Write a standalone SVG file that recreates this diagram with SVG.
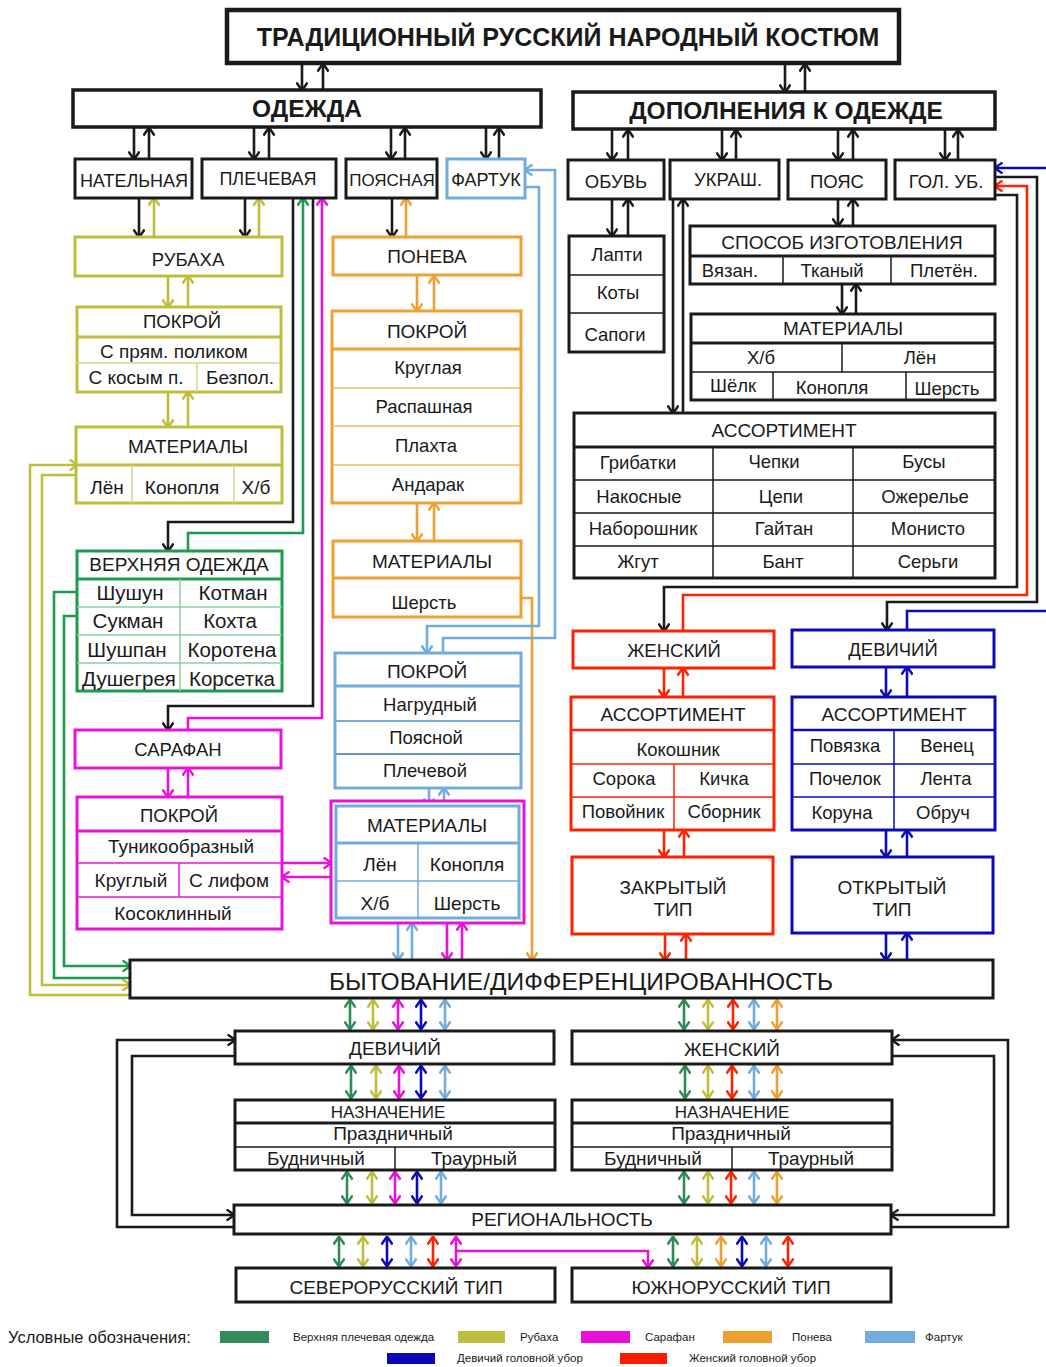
<svg xmlns="http://www.w3.org/2000/svg" width="1046" height="1367" viewBox="0 0 1046 1367">
<defs>
<style>
text{font-family:"Liberation Sans",Arial,sans-serif;fill:#1a1a1a;text-anchor:middle;font-size:18.5px}
.bold{font-weight:bold}
.s17{font-size:17px}.s18{font-size:18px}.s19{font-size:19px}.s20{font-size:20.5px}.s24{font-size:24.5px}
.lg{font-size:11.5px;text-anchor:start}
rect{fill:#fff;stroke-width:3}
.k{stroke:#1a1a1a}.o{stroke:#bebe3c}.g{stroke:#1c9c4c}.m{stroke:#e812d8}.n{stroke:#eda132}.l{stroke:#72acdc}.r{stroke:#ff2200}.b{stroke:#0a0ab8}
line.h{stroke-width:3}line.t{stroke-width:1.5}
.c path,.c line{fill:none;stroke-width:2.6}
.ak{marker-end:url(#mK)}
</style>
<marker id="mK" viewBox="0 0 10 12" refX="8.5" refY="6" markerWidth="10" markerHeight="12" markerUnits="userSpaceOnUse" orient="auto-start-reverse"><path d="M1,0.5 L9,6 L1,11.5" fill="none" stroke="#1a1a1a" stroke-width="2.4"/></marker>
<marker id="mO" viewBox="0 0 10 12" refX="8.5" refY="6" markerWidth="10" markerHeight="12" markerUnits="userSpaceOnUse" orient="auto-start-reverse"><path d="M1,0.5 L9,6 L1,11.5" fill="none" stroke="#bebe3c" stroke-width="2.4"/></marker>
<marker id="mG" viewBox="0 0 10 12" refX="8.5" refY="6" markerWidth="10" markerHeight="12" markerUnits="userSpaceOnUse" orient="auto-start-reverse"><path d="M1,0.5 L9,6 L1,11.5" fill="none" stroke="#1c9c4c" stroke-width="2.4"/></marker>
<marker id="mD" viewBox="0 0 10 12" refX="8.5" refY="6" markerWidth="10" markerHeight="12" markerUnits="userSpaceOnUse" orient="auto-start-reverse"><path d="M1,0.5 L9,6 L1,11.5" fill="none" stroke="#2e8a58" stroke-width="2.4"/></marker>
<marker id="mM" viewBox="0 0 10 12" refX="8.5" refY="6" markerWidth="10" markerHeight="12" markerUnits="userSpaceOnUse" orient="auto-start-reverse"><path d="M1,0.5 L9,6 L1,11.5" fill="none" stroke="#e812d8" stroke-width="2.4"/></marker>
<marker id="mN" viewBox="0 0 10 12" refX="8.5" refY="6" markerWidth="10" markerHeight="12" markerUnits="userSpaceOnUse" orient="auto-start-reverse"><path d="M1,0.5 L9,6 L1,11.5" fill="none" stroke="#eda132" stroke-width="2.4"/></marker>
<marker id="mL" viewBox="0 0 10 12" refX="8.5" refY="6" markerWidth="10" markerHeight="12" markerUnits="userSpaceOnUse" orient="auto-start-reverse"><path d="M1,0.5 L9,6 L1,11.5" fill="none" stroke="#72acdc" stroke-width="2.4"/></marker>
<marker id="mR" viewBox="0 0 10 12" refX="8.5" refY="6" markerWidth="10" markerHeight="12" markerUnits="userSpaceOnUse" orient="auto-start-reverse"><path d="M1,0.5 L9,6 L1,11.5" fill="none" stroke="#ff2200" stroke-width="2.4"/></marker>
<marker id="mB" viewBox="0 0 10 12" refX="8.5" refY="6" markerWidth="10" markerHeight="12" markerUnits="userSpaceOnUse" orient="auto-start-reverse"><path d="M1,0.5 L9,6 L1,11.5" fill="none" stroke="#0a0ab8" stroke-width="2.4"/></marker>
</defs>
<rect x="0" y="0" width="1046" height="1367" style="fill:#fff;stroke:none"/>

<!-- connectors -->
<g id="connectors" class="c">
<g class="k" marker-end="url(#mK)">
<path d="M302,64V90"/><path d="M323,90V64"/>
<path d="M785,64V92"/><path d="M805,92V64"/>
<path d="M134,128V159"/><path d="M149,159V128"/>
<path d="M254,128V159"/><path d="M269,159V128"/>
<path d="M391,128V159"/><path d="M405,159V128"/>
<path d="M486,128V159"/><path d="M499,159V128"/>
<path d="M612,130V160"/><path d="M628,160V130"/>
<path d="M722,130V160"/><path d="M736,160V130"/>
<path d="M838,130V160"/><path d="M853,160V130"/>
<path d="M945,130V160"/><path d="M958,160V130"/>
<path d="M139,198V237"/><path d="M245,198V237"/>
<path d="M293,198V522H168V551"/>
<path d="M313,198V706H168V730"/>
<path d="M392,198V237"/>
<path d="M612,199V236"/><path d="M628,236V199"/>
<path d="M673,199V413"/><path d="M683,413V199"/>
<path d="M838,199V226"/><path d="M853,226V199"/>
<path d="M842,284V314"/><path d="M856,314V284"/>
<path d="M995,195H1017V587H664V631"/>
<path d="M995,177H1037V602H887V630"/>
<path d="M234,1227H117V1040H235"/>
<path d="M235,1056H132V1215H234"/>
<path d="M891,1227H1008V1040H892"/>
<path d="M892,1056H994V1215H891"/>
</g>
<g class="o" marker-end="url(#mO)">
<path d="M154,237V198"/><path d="M259,237V198"/>
<path d="M168,276V307"/><path d="M188,307V276"/>
<path d="M168,392V427"/><path d="M188,427V392"/>
<path d="M77,475H42V985H130"/>
<path d="M130,995H30V465H77"/>
</g>
<g class="g" marker-end="url(#mG)">
<path d="M188,551V533H303V198"/>
<path d="M77,616H64V966H130"/>
</g>
<path class="g" d="M77,592H54V978H130"/>
<g class="m" marker-end="url(#mM)">
<path d="M188,730V718H322V198"/>
<path d="M168,768V797"/><path d="M188,797V768"/>
<path d="M282,863H331"/><path d="M331,877H282"/>
<path d="M447,923V960"/><path d="M462,960V923"/>
<path d="M456,1251H648V1267"/>
</g>
<g class="n" marker-end="url(#mN)">
<path d="M406,237V198"/>
<path d="M417,276V311"/><path d="M434,311V276"/>
<path d="M417,503V541"/><path d="M434,541V503"/>
<path d="M521,598H532V960"/>
</g>
<g class="l" marker-end="url(#mL)">
<path d="M443,653V638H555V170H525"/>
<path d="M525,187H539V626H427V653"/>
<path d="M429,788V806"/><path d="M444,806V788"/>
<path d="M398,923V960"/><path d="M412,960V923"/>
</g>
<g class="r" marker-end="url(#mR)">
<path d="M683,631V595H1027V186H995"/>
<path d="M664,668V697"/><path d="M683,697V668"/>
<path d="M664,830V857"/><path d="M684,857V830"/>
<path d="M665,934V960"/><path d="M686,960V934"/>
</g>
<g class="b" marker-end="url(#mB)">
<path d="M1046,168H995"/>
<path d="M886,667V697"/><path d="M907,697V667"/>
<path d="M886,830V857"/><path d="M907,857V830"/>
<path d="M886,933V960"/><path d="M907,960V933"/>
</g>
<path class="b" d="M907,630V611H1046"/>
<!-- double arrows -->
<g id="dbl">
<g class="g" style="stroke:#2e8a58" marker-start="url(#mD)" marker-end="url(#mD)">
<path d="M350,1000V1029"/><path d="M684,1000V1029"/>
<path d="M351,1066V1098"/><path d="M685,1066V1098"/>
<path d="M347,1172V1203"/><path d="M684,1172V1203"/>
<path d="M339,1237V1266"/><path d="M673,1237V1266"/>
</g>
<g class="o" marker-start="url(#mO)" marker-end="url(#mO)">
<path d="M373,1000V1029"/><path d="M708,1000V1029"/>
<path d="M376,1066V1098"/><path d="M708,1066V1098"/>
<path d="M372,1172V1203"/><path d="M708,1172V1203"/>
<path d="M363,1237V1266"/><path d="M697,1237V1266"/>
</g>
<g class="m" marker-start="url(#mM)" marker-end="url(#mM)">
<path d="M398,1000V1029"/><path d="M399,1066V1098"/><path d="M395,1172V1203"/><path d="M456,1237V1266"/>
</g>
<g class="b" marker-start="url(#mB)" marker-end="url(#mB)">
<path d="M421,1000V1029"/><path d="M421,1066V1098"/><path d="M417,1172V1203"/><path d="M387,1237V1266"/><path d="M742,1237V1266"/>
</g>
<g class="l" marker-start="url(#mL)" marker-end="url(#mL)">
<path d="M445,1000V1029"/><path d="M754,1000V1029"/>
<path d="M445,1066V1098"/><path d="M754,1066V1098"/>
<path d="M441,1172V1203"/><path d="M754,1172V1203"/>
<path d="M411,1237V1266"/><path d="M766,1237V1266"/>
</g>
<g class="r" marker-start="url(#mR)" marker-end="url(#mR)">
<path d="M733,1000V1029"/><path d="M732,1066V1098"/><path d="M731,1172V1203"/><path d="M433,1237V1266"/><path d="M788,1237V1266"/>
</g>
<g class="n" marker-start="url(#mN)" marker-end="url(#mN)">
<path d="M777,1000V1029"/><path d="M777,1066V1098"/><path d="M777,1172V1203"/><path d="M721,1237V1266"/>
</g>
</g>
</g>

<!-- nodes -->
<g id="title"><rect class="k" x="227" y="10" width="672" height="53" style="stroke-width:4.5"/><text class="bold" x="568" y="46" style="font-size:25px">ТРАДИЦИОННЫЙ РУССКИЙ НАРОДНЫЙ КОСТЮМ</text></g>
<g id="odezhda"><rect class="k" x="73" y="90" width="468" height="37" style="stroke-width:3.5"/><text class="bold s24" x="307" y="117">ОДЕЖДА</text></g>
<g id="dopolnenia"><rect class="k" x="573" y="92" width="422" height="37" style="stroke-width:3.5"/><text class="bold s24" x="786" y="119">ДОПОЛНЕНИЯ К ОДЕЖДЕ</text></g>

<g id="natelnaya"><rect class="k" x="75" y="159" width="117" height="39"/><text class="s18" x="134" y="187">НАТЕЛЬНАЯ</text></g>
<g id="plechevaya"><rect class="k" x="202" y="159" width="134" height="39"/><text class="s18" x="268" y="185">ПЛЕЧЕВАЯ</text></g>
<g id="poyasnaya"><rect class="k" x="346" y="159" width="91" height="39"/><text class="s17" x="392" y="186">ПОЯСНАЯ</text></g>
<g id="fartuk"><rect class="l" x="447" y="159" width="78" height="39"/><text class="s18" x="486" y="186">ФАРТУК</text></g>
<g id="obuv"><rect class="k" x="568" y="160" width="96" height="39"/><text x="616" y="188">ОБУВЬ</text></g>
<g id="ukrash"><rect class="k" x="670" y="160" width="109" height="39"/><text x="728" y="186">УКРАШ.</text></g>
<g id="poyas"><rect class="k" x="788" y="160" width="98" height="39"/><text x="837" y="188">ПОЯС</text></g>
<g id="golub"><rect class="k" x="895" y="160" width="100" height="39"/><text x="946" y="188">ГОЛ. УБ.</text></g>

<!-- Rubakha branch -->
<g id="rubakha"><rect class="o" x="75" y="237" width="207" height="39"/><text x="188" y="266">РУБАХА</text></g>
<g id="rub-pokroy"><rect class="o" x="77" y="307" width="204" height="85"/>
<line class="o h" x1="77" y1="337" x2="281" y2="337"/><line class="t" style="stroke:#d4d48a" x1="77" y1="363" x2="281" y2="363"/><line class="t" style="stroke:#d4d48a" x1="197" y1="363" x2="197" y2="392"/>
<text x="182" y="328">ПОКРОЙ</text><text class="s19" x="174" y="358">С прям. поликом</text><text class="s19" x="136" y="384">С косым п.</text><text class="s19" x="240" y="384">Безпол.</text></g>
<g id="rub-mat"><rect class="o" x="76" y="427" width="206" height="76"/>
<line class="o h" x1="76" y1="465" x2="282" y2="465"/><line class="t" style="stroke:#d4d48a" x1="132" y1="465" x2="132" y2="503"/><line class="t" style="stroke:#d4d48a" x1="234" y1="465" x2="234" y2="503"/>
<text class="s19" x="188" y="453">МАТЕРИАЛЫ</text><text class="s19" x="107" y="494">Лён</text><text class="s19" x="182" y="494">Конопля</text><text class="s19" x="256" y="494">Х/б</text></g>

<g id="verkhnyaya"><rect class="g" x="77" y="551" width="205" height="140"/>
<line class="g h" x1="77" y1="579" x2="282" y2="579"/>
<g style="stroke:#86d3a2"><line class="t" x1="77" y1="607" x2="282" y2="607"/><line class="t" x1="77" y1="635" x2="282" y2="635"/><line class="t" x1="77" y1="663" x2="282" y2="663"/><line class="t" x1="180" y1="579" x2="180" y2="691"/></g>
<text class="s19" x="179" y="571">ВЕРХНЯЯ ОДЕЖДА</text>
<text class="s20" x="130" y="600">Шушун</text><text class="s20" x="233" y="600">Котман</text>
<text class="s20" x="128" y="628">Сукман</text><text class="s20" x="230" y="628">Кохта</text>
<text class="s20" x="127" y="657">Шушпан</text><text class="s20" x="232" y="657">Коротена</text>
<text class="s20" x="129" y="686">Душегрея</text><text class="s20" x="232" y="686">Корсетка</text></g>

<g id="sarafan"><rect class="m" x="75" y="730" width="206" height="38"/><text x="178" y="756">САРАФАН</text></g>
<g id="sar-pokroy"><rect class="m" x="77" y="797" width="205" height="132"/>
<line class="m h" x1="77" y1="831" x2="282" y2="831"/><line class="m t" x1="77" y1="863" x2="282" y2="863"/><line class="m t" x1="77" y1="897" x2="282" y2="897"/><line class="m t" x1="179" y1="863" x2="179" y2="897"/>
<text x="179" y="822">ПОКРОЙ</text><text class="s19" x="181" y="853">Туникообразный</text><text class="s19" x="131" y="887">Круглый</text><text class="s19" x="229" y="887">С лифом</text><text class="s19" x="173" y="920">Косоклинный</text></g>

<!-- Poneva branch -->
<g id="poneva"><rect class="n" x="333" y="237" width="188" height="38"/><text class="s19" x="427" y="263">ПОНЕВА</text></g>
<g id="pon-pokroy"><rect class="n" x="332" y="311" width="189" height="192"/>
<line class="n h" x1="332" y1="349" x2="521" y2="349"/>
<g style="stroke:#f2b860"><line class="t" x1="332" y1="388" x2="521" y2="388"/><line class="t" x1="332" y1="426" x2="521" y2="426"/><line class="t" x1="332" y1="465" x2="521" y2="465"/></g>
<text class="s19" x="427" y="338">ПОКРОЙ</text><text x="428" y="374">Круглая</text><text x="424" y="413">Распашная</text><text x="426" y="452">Плахта</text><text x="428" y="491">Андарак</text></g>
<g id="pon-mat"><rect class="n" x="333" y="541" width="188" height="76"/><line class="n h" x1="333" y1="578" x2="521" y2="578"/>
<text class="s19" x="432" y="568">МАТЕРИАЛЫ</text><text x="424" y="609">Шерсть</text></g>

<!-- Fartuk branch -->
<g id="far-pokroy"><rect class="l" x="335" y="653" width="186" height="135"/>
<line class="l h" x1="335" y1="686" x2="521" y2="686"/><line class="l" style="stroke-width:2" x1="335" y1="721" x2="521" y2="721"/><line style="stroke:#6a94b8;stroke-width:2" x1="335" y1="754" x2="521" y2="754"/>
<text class="s19" x="427" y="678">ПОКРОЙ</text><text x="430" y="711">Нагрудный</text><text x="426" y="744">Поясной</text><text x="425" y="777">Плечевой</text></g>
<g id="shared-mat"><rect class="m" x="331" y="801" width="193" height="122"/><rect class="l" x="336" y="806" width="183" height="112"/>
<line class="l h" x1="336" y1="843" x2="519" y2="843"/><line class="l t" x1="336" y1="881" x2="519" y2="881"/><line class="l t" x1="418" y1="843" x2="418" y2="918"/>
<text class="s19" x="427" y="832">МАТЕРИАЛЫ</text><text class="s19" x="380" y="871">Лён</text><text class="s19" x="467" y="871">Конопля</text><text class="s19" x="375" y="910">Х/б</text><text class="s19" x="467" y="910">Шерсть</text></g>

<!-- Right side -->
<g id="obuv-list"><rect class="k" x="569" y="236" width="95" height="116"/><line class="k t" x1="569" y1="275" x2="664" y2="275"/><line class="k t" x1="569" y1="313" x2="664" y2="313"/>
<text x="617" y="261">Лапти</text><text x="618" y="299">Коты</text><text x="615" y="341">Сапоги</text></g>
<g id="sposob"><rect class="k" x="690" y="226" width="305" height="58"/><line class="k h" x1="690" y1="256" x2="995" y2="256"/><line class="k t" x1="783" y1="256" x2="783" y2="284"/><line class="k t" x1="891" y1="256" x2="891" y2="284"/>
<text class="s19" x="842" y="249">СПОСОБ ИЗГОТОВЛЕНИЯ</text><text x="730" y="277">Вязан.</text><text x="832" y="277">Тканый</text><text x="944" y="277">Плетён.</text></g>
<g id="poyas-mat"><rect class="k" x="691" y="314" width="304" height="86"/><line class="k h" x1="691" y1="343" x2="995" y2="343"/><line class="k t" x1="691" y1="372" x2="995" y2="372"/><line class="k t" x1="842" y1="343" x2="842" y2="372"/><line class="k t" x1="773" y1="372" x2="773" y2="400"/><line class="k t" x1="906" y1="372" x2="906" y2="400"/>
<text class="s19" x="843" y="335">МАТЕРИАЛЫ</text><text x="761" y="364">Х/б</text><text x="920" y="364">Лён</text><text x="733" y="392">Шёлк</text><text x="832" y="394">Конопля</text><text x="947" y="395">Шерсть</text></g>
<g id="assortiment"><rect class="k" x="574" y="413" width="421" height="165"/><line class="k h" x1="574" y1="447" x2="995" y2="447"/>
<line class="k t" x1="574" y1="480" x2="995" y2="480"/><line class="k t" x1="574" y1="513" x2="995" y2="513"/><line class="k t" x1="574" y1="546" x2="995" y2="546"/><line class="k t" x1="713" y1="447" x2="713" y2="578"/><line class="k t" x1="853" y1="447" x2="853" y2="578"/>
<text class="s19" x="784" y="437">АССОРТИМЕНТ</text>
<text x="638" y="469">Грибатки</text><text x="774" y="468">Чепки</text><text x="924" y="468">Бусы</text>
<text x="639" y="503">Накосные</text><text x="781" y="503">Цепи</text><text x="925" y="503">Ожерелье</text>
<text x="643" y="535">Наборошник</text><text x="784" y="535">Гайтан</text><text x="928" y="535">Монисто</text>
<text x="638" y="568">Жгут</text><text x="783" y="568">Бант</text><text x="928" y="568">Серьги</text></g>

<g id="zhenskiy"><rect class="r" x="573" y="631" width="201" height="37"/><text x="674" y="657">ЖЕНСКИЙ</text></g>
<g id="devichiy"><rect class="b" x="792" y="630" width="202" height="37"/><text x="893" y="656">ДЕВИЧИЙ</text></g>
<g id="zh-assort"><rect class="r" x="571" y="697" width="203" height="133"/><line class="r" style="stroke-width:2.5" x1="571" y1="730" x2="774" y2="730"/><line class="r t" x1="571" y1="764" x2="774" y2="764"/><line class="r t" x1="571" y1="797" x2="774" y2="797"/><line class="r t" x1="674" y1="764" x2="674" y2="830"/>
<text class="s19" x="673" y="721">АССОРТИМЕНТ</text><text x="678" y="756">Кокошник</text><text x="624" y="785">Сорока</text><text x="724" y="785">Кичка</text><text x="623" y="818">Повойник</text><text x="724" y="818">Сборник</text></g>
<g id="dv-assort"><rect class="b" x="792" y="697" width="203" height="133"/><line class="b" style="stroke-width:2.5" x1="792" y1="730" x2="995" y2="730"/><line class="b t" x1="792" y1="764" x2="995" y2="764"/><line class="b t" x1="792" y1="797" x2="995" y2="797"/><line class="b t" x1="894" y1="730" x2="894" y2="830"/>
<text class="s19" x="894" y="721">АССОРТИМЕНТ</text><text x="845" y="752">Повязка</text><text x="947" y="752">Венец</text><text x="845" y="785">Почелок</text><text x="946" y="785">Лента</text><text x="842" y="819">Коруна</text><text x="943" y="819">Обруч</text></g>
<g id="zakrytiy"><rect class="r" x="572" y="857" width="201" height="77"/><text class="s19" x="673" y="894">ЗАКРЫТЫЙ</text><text class="s19" x="673" y="916">ТИП</text></g>
<g id="otkrytiy"><rect class="b" x="792" y="857" width="201" height="76"/><text class="s19" x="892" y="894">ОТКРЫТЫЙ</text><text class="s19" x="892" y="916">ТИП</text></g>

<!-- Bottom -->
<g id="bytovanie"><rect class="k" x="130" y="960" width="863" height="38"/><text class="s24" x="581" y="990">БЫТОВАНИЕ/ДИФФЕРЕНЦИРОВАННОСТЬ</text></g>
<g id="b-devichiy"><rect class="k" x="235" y="1031" width="319" height="33"/><text class="s19" x="395" y="1055">ДЕВИЧИЙ</text></g>
<g id="b-zhenskiy"><rect class="k" x="572" y="1031" width="320" height="33"/><text class="s19" x="732" y="1056">ЖЕНСКИЙ</text></g>
<g id="b-naz-l"><rect class="k" x="235" y="1100" width="320" height="70"/><line class="k h" x1="235" y1="1123" x2="555" y2="1123"/><line class="k t" x1="235" y1="1147" x2="555" y2="1147"/><line class="k t" x1="395" y1="1147" x2="395" y2="1170"/>
<text class="s17" x="388" y="1118">НАЗНАЧЕНИЕ</text><text class="s19" x="393" y="1140">Праздничный</text><text class="s19" x="316" y="1165">Будничный</text><text class="s19" x="474" y="1165">Траурный</text></g>
<g id="b-naz-r"><rect class="k" x="572" y="1100" width="320" height="70"/><line class="k h" x1="572" y1="1123" x2="892" y2="1123"/><line class="k t" x1="572" y1="1147" x2="892" y2="1147"/><line class="k t" x1="732" y1="1147" x2="732" y2="1170"/>
<text class="s17" x="732" y="1118">НАЗНАЧЕНИЕ</text><text class="s19" x="731" y="1140">Праздничный</text><text class="s19" x="653" y="1165">Будничный</text><text class="s19" x="811" y="1165">Траурный</text></g>
<g id="regional"><rect class="k" x="234" y="1205" width="657" height="29"/><text class="s19" x="562" y="1226">РЕГИОНАЛЬНОСТЬ</text></g>
<g id="sever"><rect class="k" x="236" y="1268" width="319" height="34"/><text class="s19" x="396" y="1294">СЕВЕРОРУССКИЙ ТИП</text></g>
<g id="yuzh"><rect class="k" x="572" y="1268" width="319" height="34"/><text class="s19" x="731" y="1294">ЮЖНОРУССКИЙ ТИП</text></g>

<!-- legend -->
<g id="legend">
<text x="8" y="1343" style="font-size:16.5px;text-anchor:start">Условные обозначения:</text>
<rect x="220" y="1331" width="49" height="12" style="fill:#338a5a;stroke:none"/><text class="lg" x="293" y="1341">Верхняя плечевая одежда</text>
<rect x="458" y="1331" width="47" height="12" style="fill:#bfbf3f;stroke:none"/><text class="lg" x="520" y="1341">Рубаха</text>
<rect x="581" y="1331" width="49" height="12" style="fill:#e810d8;stroke:none"/><text class="lg" x="645" y="1341">Сарафан</text>
<rect x="723" y="1331" width="49" height="12" style="fill:#eda030;stroke:none"/><text class="lg" x="792" y="1341">Понева</text>
<rect x="865" y="1331" width="50" height="12" style="fill:#72acdc;stroke:none"/><text class="lg" x="925" y="1341">Фартук</text>
<rect x="387" y="1353" width="48" height="11" style="fill:#0808b8;stroke:none"/><text class="lg" x="457" y="1362">Девичий головной убор</text>
<rect x="620" y="1353" width="47" height="11" style="fill:#ff1a00;stroke:none"/><text class="lg" x="689" y="1362">Женский головной убор</text>
</g>
</svg>
